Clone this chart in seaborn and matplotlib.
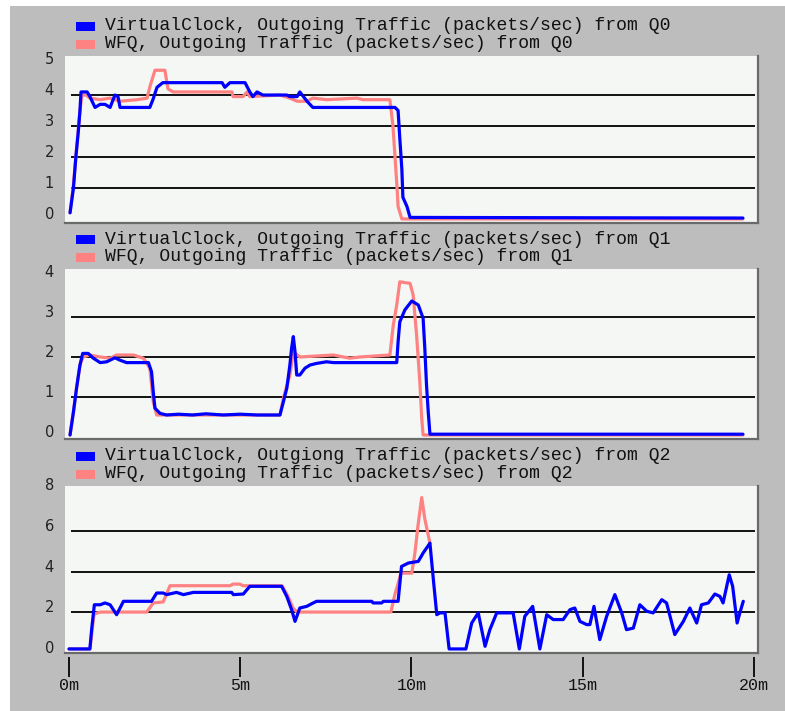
import matplotlib
matplotlib.use("Agg")
import matplotlib.pyplot as plt
import seaborn as sns
import pandas as pd
from matplotlib.patches import Rectangle
from matplotlib import transforms

# ---------------- data (minutes, packets/sec) ----------------
q0_vc_t = [0.03, 0.08, 0.13, 0.20, 0.27, 0.32, 0.35, 0.53, 0.61, 0.76, 0.91, 1.05, 1.20, 1.34, 1.43, 1.49,
           2.36, 2.45, 2.57, 2.74, 4.47, 4.55, 4.70, 5.14, 5.28, 5.37, 5.49, 5.66, 6.36, 6.45, 6.66, 6.74,
           6.95, 7.12, 9.52, 9.61, 9.66, 9.72, 9.75, 9.87, 9.96, 19.68]
q0_vc_v = [0.2, 0.6, 1.0, 2.0, 2.8, 3.5, 4.1, 4.1, 3.95, 3.6, 3.7, 3.7, 3.6, 4.0, 3.95, 3.6,
           3.6, 3.85, 4.25, 4.4, 4.4, 4.25, 4.4, 4.4, 4.1, 3.95, 4.1, 4.0, 4.0, 3.95, 3.95, 4.1,
           3.8, 3.6, 3.6, 3.5, 2.6, 1.6, 0.7, 0.4, 0.05, 0.03]
q0_wfq_t = [0.03, 0.12, 0.20, 0.32, 0.38, 0.50, 0.61, 0.91, 1.20, 1.49, 1.99, 2.28, 2.36, 2.51, 2.80, 2.89,
            3.04, 4.76, 4.79, 5.08, 5.20, 5.28, 6.16, 6.45, 6.66, 6.95, 7.12, 7.53, 8.41, 8.58, 9.37, 9.46,
            9.52, 9.58, 9.61, 9.72, 19.68]
q0_wfq_v = [0.2, 1.0, 2.0, 3.5, 4.0, 4.0, 3.9, 3.85, 3.9, 3.8, 3.85, 3.9, 4.26, 4.8, 4.8, 4.2,
            4.1, 4.1, 3.95, 3.95, 4.1, 3.95, 4.0, 3.9, 3.8, 3.8, 3.9, 3.85, 3.9, 3.85, 3.85, 3.0,
            2.0, 1.0, 0.4, 0.0, 0.0]

q1_vc_t = [0.03, 0.13, 0.22, 0.32, 0.40, 0.56, 0.71, 0.91, 1.10, 1.34, 1.49, 1.68, 2.32, 2.41, 2.46, 2.51,
           2.66, 2.85, 3.2, 3.6, 4.0, 4.5, 5.0, 5.5, 6.16, 6.26, 6.36, 6.45, 6.50, 6.55, 6.60, 6.65,
           6.74, 6.89, 7.04, 7.23, 7.52, 7.72, 9.57, 9.61, 9.66, 9.81, 10.01, 10.20, 10.34, 10.39, 10.44,
           10.49, 10.54, 19.68]
q1_vc_v = [0.05, 0.63, 1.22, 1.8, 2.09, 2.09, 1.97, 1.86, 1.88, 1.98, 1.92, 1.86, 1.86, 1.63, 1.13, 0.72,
           0.59, 0.55, 0.57, 0.55, 0.58, 0.55, 0.57, 0.55, 0.55, 0.88, 1.22, 1.8, 2.22, 2.51, 2.13, 1.55,
           1.55, 1.72, 1.8, 1.84, 1.88, 1.86, 1.86, 2.38, 2.88, 3.18, 3.4, 3.3, 2.97, 2.22, 1.3,
           0.63, 0.07, 0.07]
q1_wfq_t = [0.03, 0.13, 0.22, 0.32, 0.41, 0.61, 0.91, 1.20, 1.39, 1.88, 2.17, 2.36, 2.46, 2.56, 6.16, 6.26,
            6.45, 6.55, 6.74, 7.72, 8.20, 8.49, 9.37, 9.47, 9.57, 9.66, 9.96, 10.05, 10.15, 10.25, 10.30,
            10.34, 19.68]
q1_wfq_v = [0.05, 0.63, 1.22, 1.8, 2.0, 2.05, 2.0, 1.97, 2.05, 2.05, 1.97, 1.72, 0.88, 0.55, 0.55, 0.97,
            1.55, 2.13, 2.0, 2.05, 1.97, 2.0, 2.05, 2.8, 3.3, 3.88, 3.84, 3.55, 2.55, 1.3, 0.47,
            0.05, 0.05]

q2_vc_t = [0.0, 0.61, 0.66, 0.74, 0.91, 1.05, 1.20, 1.39, 1.49, 1.59, 2.41, 2.56, 2.75, 2.85, 3.14, 3.34,
           3.63, 4.75, 4.80, 5.09, 5.28, 6.21, 6.36, 6.50, 6.60, 6.74, 6.94, 7.13, 7.23, 8.84, 8.88, 9.13,
           9.18, 9.61, 9.71, 9.91, 10.20, 10.34, 10.54, 10.64, 10.74, 10.83, 10.98, 11.10, 11.59, 11.76,
           11.95, 12.15, 12.29, 12.49, 12.97, 13.15, 13.31, 13.54, 13.75, 13.95, 14.14, 14.43, 14.63,
           14.77, 14.92, 15.12, 15.21, 15.33, 15.50, 15.70, 15.94, 16.14, 16.28, 16.48, 16.67, 16.87,
           17.06, 17.31, 17.45, 17.69, 17.94, 18.13, 18.33, 18.47, 18.67, 18.86, 19.01, 19.10, 19.28,
           19.38, 19.51, 19.59, 19.69]
q2_vc_v = [0.18, 0.18, 1.13, 2.36, 2.36, 2.45, 2.36, 1.87, 2.2, 2.53, 2.53, 2.94, 2.94, 2.86, 2.97, 2.86,
           2.97, 2.97, 2.86, 2.89, 3.27, 3.27, 2.77, 2.12, 1.54, 2.2, 2.28, 2.45, 2.53, 2.53, 2.45, 2.45,
           2.53, 2.53, 4.25, 4.42, 4.5, 4.91, 5.4, 3.6, 1.87, 1.96, 1.96, 0.18, 0.18, 1.46,
           1.96, 0.31, 1.13, 1.96, 1.96, 0.18, 1.79, 2.28, 0.18, 1.87, 1.63, 1.63, 2.12,
           2.2, 1.54, 1.38, 1.38, 2.28, 0.64, 1.79, 2.86, 1.96, 1.13, 1.21, 2.36, 2.04,
           1.96, 2.61, 2.45, 0.89, 1.54, 2.2, 1.46, 2.36, 2.45, 2.89, 2.77, 2.45, 3.84,
           3.27, 1.46, 1.96, 2.53]
q2_wfq_t = [0.0, 0.61, 0.67, 0.73, 0.91, 2.27, 2.46, 2.75, 2.85, 2.95, 4.70, 4.79, 4.99, 5.08, 6.22, 6.39,
            6.54, 6.66, 9.40, 9.52, 9.61, 9.69, 10.01, 10.10, 10.19, 10.30, 10.39, 10.54]
q2_wfq_v = [0.18, 0.18, 1.0, 1.9, 2.0, 2.0, 2.45, 2.5, 2.9, 3.3, 3.3, 3.38, 3.38, 3.3, 3.3, 2.8,
            2.2, 2.0, 2.0, 2.9, 3.4, 3.92, 3.92, 4.9, 6.25, 7.65, 6.6, 5.4]

vc_labels = ["VirtualClock, Outgoing Traffic (packets/sec) from Q0",
             "VirtualClock, Outgoing Traffic (packets/sec) from Q1",
             "VirtualClock, Outgiong Traffic (packets/sec) from Q2"]
wfq_labels = ["WFQ, Outgoing Traffic (packets/sec) from Q0",
              "WFQ, Outgoing Traffic (packets/sec) from Q1",
              "WFQ, Outgoing Traffic (packets/sec) from Q2"]

y_ticks = [[0, 1, 2, 3, 4, 5], [0, 1, 2, 3, 4], [0, 2, 4, 6, 8]]
grid_vals = [[1, 2, 3, 4], [1, 2, 3], [2, 4, 6]]
x_ticks = [0, 5, 10, 15, 20]
x_tick_labels = ["0m", "5m", "10m", "15m", "20m"]

# ---------------- styling / layout ----------------
W, H = 785, 711
BLUE = "#0000ff"
PINK = "#ff8282"
BG = "#bdbdbd"
FACE = "#f4f7f4"

sns.set_style("white")
plt.rcParams["font.family"] = ["DejaVu Sans"]

fig = plt.figure(figsize=(W / 100, H / 100), dpi=100, facecolor="white")
fig.add_artist(Rectangle((10 / W, 0), 1 - 10 / W, 1 - 6 / H, transform=fig.transFigure,
                         facecolor=BG, edgecolor="none", zorder=-5))

# pixel boxes (x0, top, x1, bottom)
boxes = [(65, 56, 758, 223), (65, 269, 758, 439), (65, 486, 758, 653)]
ylims = [(-0.13, 5.26), (-0.05, 4.2), (-0.02, 8.22)]
series = [(q0_vc_t, q0_vc_v, q0_wfq_t, q0_wfq_v),
          (q1_vc_t, q1_vc_v, q1_wfq_t, q1_wfq_v),
          (q2_vc_t, q2_vc_v, q2_wfq_t, q2_wfq_v)]

for i, (box, yl, (vt, vv, wt, wv)) in enumerate(zip(boxes, ylims, series)):
    x0, top, x1, bot = box
    ax = fig.add_axes([x0 / W, 1 - bot / H, (x1 - x0) / W, (bot - top) / H])
    ax.set_facecolor(FACE)
    ax.set_xlim(-0.117, 20.12)
    ax.set_ylim(*yl)
    ax.hlines(grid_vals[i], 0.06, 20.03, colors="#111111", linewidth=1.4, zorder=1)
    dfw = pd.DataFrame({"t": wt, "v": wv})
    dfv = pd.DataFrame({"t": vt, "v": vv})
    sns.lineplot(data=dfw, x="t", y="v", ax=ax, color=PINK, linewidth=2.3,
                 sort=False, estimator=None, zorder=2)
    sns.lineplot(data=dfv, x="t", y="v", ax=ax, color=BLUE, linewidth=2.3,
                 sort=False, estimator=None, zorder=3)
    ax.set_xlabel("")
    ax.set_ylabel("")
    for s in ["left", "top"]:
        ax.spines[s].set_visible(False)
    for s in ["right", "bottom"]:
        ax.spines[s].set_color("#6a6a6a")
        ax.spines[s].set_linewidth(1.6)
    ax.set_yticks(y_ticks[i])
    ax.set_yticklabels([str(v) for v in y_ticks[i]], fontsize=10.5, color="#222222",
                       va="baseline")
    ax.tick_params(axis="y", length=0, pad=8)
    if i < 2:
        ax.set_xticks([])
    else:
        ax.set_xticks(x_ticks)
        ax.set_xticklabels(x_tick_labels, fontfamily="Liberation Mono", fontsize=12,
                           color="#111111")
        ax.tick_params(axis="x", length=0, pad=18)
        trans = transforms.blended_transform_factory(ax.transData, ax.transAxes)
        h = bot - top
        ax.vlines(x_ticks, -4 / h, -24 / h, transform=trans, colors="#111111",
                  linewidth=1.4, clip_on=False)

    # legend rows above the panel
    for k, (lab, col) in enumerate([(vc_labels[i], BLUE), (wfq_labels[i], PINK)]):
        yc = top - 30 + 18 * k
        fig.add_artist(Rectangle((76 / W, 1 - (yc + 4.5) / H), 19 / W, 9 / H,
                                 transform=fig.transFigure, facecolor=col,
                                 edgecolor="none", zorder=5))
        fig.text(105 / W, 1 - yc / H, lab, fontfamily="Liberation Mono", fontsize=13.1,
                 color="#111111", va="center", ha="left")

fig.savefig("out.png", dpi=100, facecolor=fig.get_facecolor())
